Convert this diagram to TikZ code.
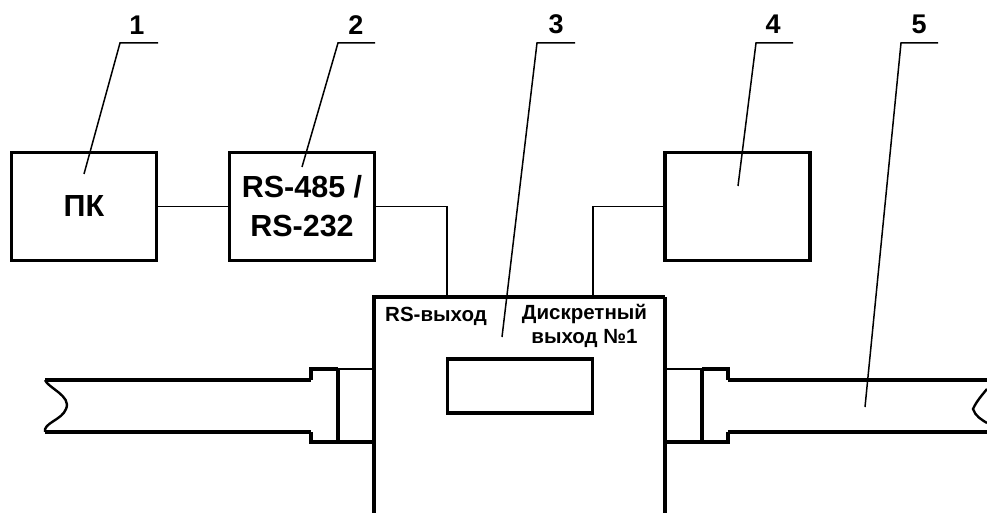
\documentclass[tikz,border=0pt]{standalone}
\usepackage{fontspec}
\setmainfont{Liberation Sans}
\tikzset{
  thick box/.style={draw,line width=3.6pt,inner sep=0pt,minimum width=145pt,minimum height=108pt,align=center,font=\fontsize{30.5}{39}\selectfont\bfseries},
  wire/.style={line width=1.8pt},
  heavy/.style={line width=4pt},
  medium/.style={line width=3.2pt},
  leader/.style={line width=1.5pt},
  num/.style={font=\fontsize{27}{30}\selectfont\bfseries,inner sep=0pt},
  small/.style={font=\fontsize{20.5}{24}\selectfont\bfseries,inner sep=0pt,align=center}
}
\begin{document}
\begin{tikzpicture}[x=1pt,y=-1pt]
\useasboundingbox (0,0) rectangle (987,513);
\node[thick box] (pc) at (84,206.5) {ПК};
\node[thick box] (conv) at (302,206.5) {RS-485 /\\RS-232};
\node[thick box] (dev) at (737.5,206.5) {};
\coordinate (rsin) at (447,297);
\coordinate (dout) at (593,297);
\draw[wire] (pc.east) -- (conv.west);
\draw[wire] (conv.east) -| (rsin);
\draw[wire] (dev.west) -| (dout);
% main body
\draw[medium] (665,297) -- (665,513);
\draw[heavy] (374,513) -- (374,297) -- (665,297);
\node[draw,line width=3.6pt,minimum width=145pt,minimum height=54pt,inner sep=0pt] (disp) at (520,386) {};
\node[small] (lrs) at (436,316) {RS-выход};
\node[small] (ldo) at (584.5,326) {Дискретный\\выход №1};
% left pipe
\draw[line width=2.4pt,line join=round] (45,380)
  .. controls (48,388) and (72,396) .. (66,409)
  .. controls (62,420) and (43,423) .. (45,432);
\draw[heavy] (45,380) -- (311,380);
\draw[medium] (45,432) -- (311,432);
\draw[medium] (311,380) -- (311,369) -- (338,369);
\draw[medium] (311,432) -- (311,442) -- (338,442);
\draw[wire] (338,369) -- (374,369);
\draw[medium] (338,442) -- (374,442);
\draw[medium] (338,369) -- (338,442);
% right pipe
\draw[heavy] (987,380) -- (728,380);
\draw[medium] (987,432) -- (728,432);
\draw[medium] (728,380) -- (728,369) -- (702,369);
\draw[medium] (728,432) -- (728,442) -- (702,442);
\draw[wire] (702,369) -- (665,369);
\draw[medium] (702,442) -- (665,442);
\draw[heavy] (702,369) -- (702,442);
\draw[line width=2.4pt] (987,389) .. controls (982,395) and (976,402) .. (973,409)
  .. controls (975,416) and (982,420) .. (987,423);
% leaders
\coordinate (e1) at (84,174);
\coordinate (e2) at (302,167);
\coordinate (e3) at (502,337);
\coordinate (e4) at (738,186);
\coordinate (e5) at (865,407);
\draw[leader] (158,43) -- (120,43) -- (e1);
\draw[leader] (375,43) -- (338,43) -- (e2);
\draw[leader] (575,43) -- (537,43) -- (e3);
\draw[leader] (793,43) -- (756,43) -- (e4);
\draw[leader] (938,43) -- (901,43) -- (e5);
\node[num] (n1) at (137,25) {1};
\node[num] (n2) at (356,25) {2};
\node[num] (n3) at (556,24) {3};
\node[num] (n4) at (773,24) {4};
\node[num] (n5) at (919,24) {5};
\end{tikzpicture}
\end{document}
